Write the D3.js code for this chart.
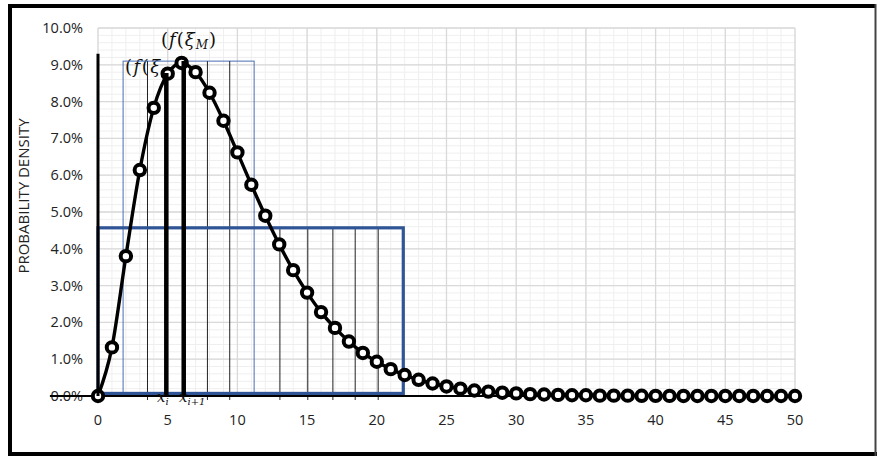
<!DOCTYPE html>
<html>
<head>
<meta charset="utf-8">
<script src="https://cdn.jsdelivr.net/npm/d3@7"></script>
<style>
  body { margin: 0; background: #fff; }
  svg { display: block; }
</style>
</head>
<body>
<div id="chart"></div>
<script>
"use strict"

const width = 877,
  height = 456;

// x values of the points and their density (in %)
const xValues = [0, 1, 2, 3, 4, 5, 6, 7, 8, 9, 10, 11, 12, 13, 14, 15, 16, 17, 18, 19, 20,
  21, 22, 23, 24, 25, 26, 27, 28, 29, 30, 31, 32, 33, 34, 35, 36, 37, 38, 39, 40,
  41, 42, 43, 44, 45, 46, 47, 48, 49, 50];
const density = [0, 1.32, 3.80, 6.14, 7.83, 8.76, 9.05, 8.80, 8.24, 7.48, 6.62,
  5.74, 4.90, 4.12, 3.42, 2.81, 2.28, 1.85, 1.48, 1.17, 0.93,
  0.73, 0.57, 0.44, 0.34, 0.26, 0.20, 0.15, 0.12, 0.09, 0.07,
  0.05, 0.04, 0.03, 0.02, 0.02, 0.01, 0.01, 0.01, 0.005, 0.004,
  0.003, 0.002, 0.002, 0.001, 0.001, 0.001, 0.001, 0, 0, 0];

const xTicks = [0, 5, 10, 15, 20, 25, 30, 35, 40, 45, 50];
const yTicks = [0, 1, 2, 3, 4, 5, 6, 7, 8, 9, 10];

// the two rectangles (x from, x to, top in %)
const bigRect = [0, 21.9, 4.57];
const thinRect = [1.8, 11.2, 9.1];
// thin partition lines
const thinLinesHigh = [3.55, 7.85, 9.45];
const thinLinesLow = [13.05, 15.05, 16.85, 18.45, 20.1];
// x_i and x_{i+1}
const xi = [4.9, 8.78];
const xi1 = [6.15, 9.1];
const axisTop = 9.3;

const x = d3.scaleLinear().domain([0, 50]).range([98, 795]);
const y = d3.scaleLinear().domain([0, 10]).range([396, 28]);

const svg = d3.select("#chart").append("svg")
  .attr("width", width)
  .attr("height", height);

// minor grid
const grid = svg.append("g");
grid.selectAll(".vmin")
  .data(d3.range(0, 50.01, 1))
  .join("line")
    .attr("x1", d => x(d)).attr("x2", d => x(d))
    .attr("y1", y(0)).attr("y2", y(10))
    .attr("stroke", "#efefef").attr("stroke-width", 1);
grid.selectAll(".hmin")
  .data(d3.range(0, 10.01, 0.2))
  .join("line")
    .attr("x1", x(0)).attr("x2", x(50))
    .attr("y1", d => y(d)).attr("y2", d => y(d))
    .attr("stroke", "#efefef").attr("stroke-width", 1);
// major grid
grid.append("g").selectAll("line")
  .data(xTicks)
  .join("line")
    .attr("x1", d => x(d)).attr("x2", d => x(d))
    .attr("y1", y(0)).attr("y2", y(10))
    .attr("stroke", "#d9d9d9").attr("stroke-width", 1.3);
grid.append("g").selectAll("line")
  .data(yTicks)
  .join("line")
    .attr("x1", x(0)).attr("x2", x(50))
    .attr("y1", d => y(d)).attr("y2", d => y(d))
    .attr("stroke", "#d9d9d9").attr("stroke-width", 1.3);

// y tick labels
svg.append("g")
    .style("font", "14.5px 'Open Sans', sans-serif")
    .attr("text-anchor", "end")
  .selectAll("text")
  .data(yTicks)
  .join("text")
    .attr("x", 83)
    .attr("y", d => y(d))
    .attr("dy", "0.35em")
    .attr("fill", "#222")
    .text(d => d.toFixed(1) + "%");

// x tick labels
svg.append("g")
    .style("font", "14.5px 'Open Sans', sans-serif")
    .attr("text-anchor", "middle")
  .selectAll("text")
  .data(xTicks)
  .join("text")
    .attr("x", d => x(d))
    .attr("y", 425)
    .attr("fill", "#222")
    .text(d => d);

// axis title
svg.append("text")
  .attr("transform", `translate(29,${196}) rotate(-90)`)
  .attr("text-anchor", "middle")
  .style("font", "15px 'Open Sans', sans-serif")
  .attr("fill", "#222")
  .text("PROBABILITY DENSITY");

// label (f(ξ  -- partly hidden behind the marks
const fLabel = svg.append("text")
  .attr("x", 125).attr("y", 73)
  .style("font-family", "'DejaVu Serif', serif")
  .style("font-size", "18px")
  .style("letter-spacing", "1.5px")
  .attr("fill", "#111");
fLabel.append("tspan").text("(");
fLabel.append("tspan").style("font-style", "italic").text("f");
fLabel.append("tspan").text("(");
fLabel.append("tspan").style("font-style", "italic").text("ξ");

// rectangles
svg.append("rect")
  .attr("x", x(thinRect[0])).attr("y", y(thinRect[2]))
  .attr("width", x(thinRect[1]) - x(thinRect[0]))
  .attr("height", y(0.07) - y(thinRect[2]))
  .attr("fill", "none").attr("stroke", "#4a6fb5").attr("stroke-width", 1);

// thin partition lines
svg.append("g").selectAll("line")
  .data(thinLinesHigh)
  .join("line")
    .attr("x1", d => x(d)).attr("x2", d => x(d))
    .attr("y1", y(thinRect[2])).attr("y2", y(0) + 4)
    .attr("stroke", "#222").attr("stroke-width", 1);
svg.append("g").selectAll("line")
  .data(thinLinesLow)
  .join("line")
    .attr("x1", d => x(d)).attr("x2", d => x(d))
    .attr("y1", y(bigRect[2])).attr("y2", y(0) + 4)
    .attr("stroke", "#222").attr("stroke-width", 1);

svg.append("rect")
  .attr("x", x(bigRect[0])).attr("y", y(bigRect[2]))
  .attr("width", x(bigRect[1]) - x(bigRect[0]))
  .attr("height", y(0.07) - y(bigRect[2]))
  .attr("fill", "none").attr("stroke", "#2f5597").attr("stroke-width", 3.2);

// x axis line (runs into the 0.0% label)
svg.append("line")
  .attr("x1", x(-3.45)).attr("x2", x(50))
  .attr("y1", y(0)).attr("y2", y(0))
  .attr("stroke", "#000").attr("stroke-width", 2.2);

// curve
const line = d3.line()
  .x((d, i) => x(xValues[i]))
  .y(d => y(d))
  .curve(d3.curveMonotoneX);

svg.append("path")
  .datum(density)
  .attr("d", line)
  .attr("fill", "none")
  .attr("stroke", "#000")
  .attr("stroke-width", 3.4);

svg.append("g").selectAll("circle")
  .data(density)
  .join("circle")
    .attr("cx", (d, i) => x(xValues[i]))
    .attr("cy", d => y(d))
    .attr("r", 5.2)
    .attr("fill", "#fff")
    .attr("stroke", "#000")
    .attr("stroke-width", 4);

// thick vertical lines
svg.append("line")
  .attr("x1", x(0)).attr("x2", x(0))
  .attr("y1", y(0)).attr("y2", y(axisTop))
  .attr("stroke", "#000").attr("stroke-width", 3);
[xi, xi1].forEach(d => {
  svg.append("line")
    .attr("x1", x(d[0])).attr("x2", x(d[0]))
    .attr("y1", y(0)).attr("y2", y(d[1]))
    .attr("stroke", "#000").attr("stroke-width", 4.5);
});

// label (f(ξ_M)
const fmLabel = svg.append("text")
  .attr("x", 161).attr("y", 46)
  .style("font-family", "'DejaVu Serif', serif")
  .style("font-size", "18px")
  .style("letter-spacing", "1px")
  .attr("fill", "#111");
fmLabel.append("tspan").text("(");
fmLabel.append("tspan").style("font-style", "italic").text("f");
fmLabel.append("tspan").text("(");
fmLabel.append("tspan").style("font-style", "italic").text("ξ");
fmLabel.append("tspan").style("font-style", "italic").style("font-size", "12px").attr("dy", 3).text("M");
fmLabel.append("tspan").attr("dy", -3).text(")");

// x_i labels
function subLabel(px, main, sub) {
  const t = svg.append("text")
    .attr("x", px).attr("y", 402)
    .style("font-family", "'DejaVu Serif', serif")
    .style("font-size", "15px")
    .style("font-style", "italic")
    .attr("fill", "#111");
  t.append("tspan").text(main);
  t.append("tspan").style("font-size", "10px").attr("dy", 3).text(sub);
}
subLabel(157, "x", "i");
subLabel(179, "x", "i+1");

// outer frame
svg.append("line").attr("x1", 8).attr("x2", 876).attr("y1", 6).attr("y2", 6)
  .attr("stroke", "#000").attr("stroke-width", 4);
svg.append("line").attr("x1", 10).attr("x2", 10).attr("y1", 4).attr("y2", 456)
  .attr("stroke", "#000").attr("stroke-width", 4);
svg.append("line").attr("x1", 8).attr("x2", 877).attr("y1", 454).attr("y2", 454)
  .attr("stroke", "#000").attr("stroke-width", 4);
svg.append("line").attr("x1", 875.5).attr("x2", 875.5).attr("y1", 4).attr("y2", 456)
  .attr("stroke", "#444").attr("stroke-width", 2);
</script>
</body>
</html>
